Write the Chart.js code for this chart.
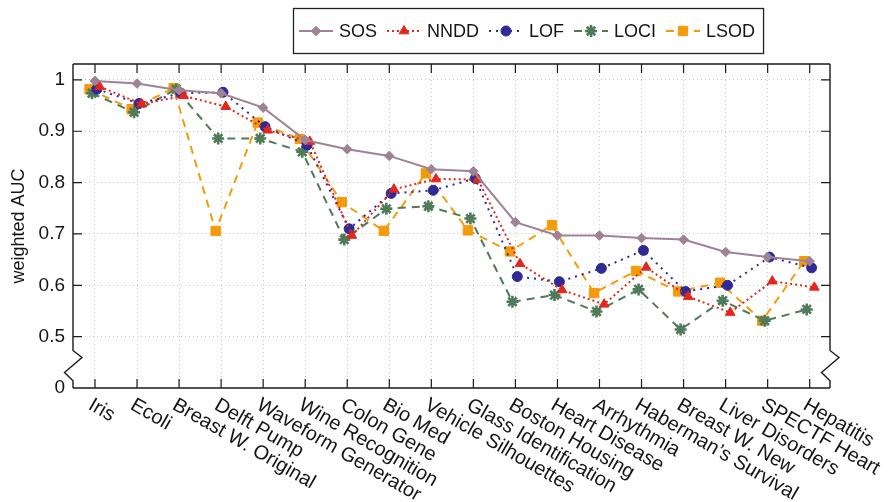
<!DOCTYPE html>
<html><head><meta charset="utf-8">
<script src="https://cdn.jsdelivr.net/npm/chart.js@4"></script>
<style>html,body{margin:0;padding:0;background:#fff}</style>
</head><body>
<canvas id="c" width="890" height="502"></canvas>
<script>
const categories = ["Iris","Ecoli","Breast W. Original","Delft Pump","Waveform Generator","Wine Recognition","Colon Gene","Bio Med","Vehicle Silhouettes","Glass Identification","Boston Housing","Heart Disease","Arrhythmia","Haberman\u2019s Survival","Breast W. New","Liver Disorders","SPECTF Heart","Hepatitis"];
const sos  = [0.998,0.993,0.980,0.974,0.946,0.883,0.865,0.852,0.826,0.822,0.723,0.697,0.697,0.692,0.689,0.665,0.655,0.647];
const nndd = [0.987,0.953,0.969,0.948,0.902,0.880,0.697,0.787,0.807,0.806,0.642,0.591,0.563,0.635,0.578,0.547,0.608,0.596];
const lof  = [0.982,0.954,0.974,0.976,0.909,0.873,0.710,0.779,0.785,0.808,0.617,0.607,0.633,0.668,0.588,0.600,0.655,0.634];
const loci = [0.974,0.937,0.982,0.886,0.886,0.860,0.689,0.749,0.754,0.730,0.568,0.581,0.549,0.592,0.514,0.570,0.531,0.553];
const lsod = [0.982,0.943,0.984,0.706,0.917,0.885,0.762,0.706,0.818,0.707,0.666,0.717,0.585,0.628,0.588,0.605,0.531,0.647];
const seriesNames = ["SOS","NNDD","LOF","LOCI","LSOD"];
const yTickValues = [0.4,0.5,0.6,0.7,0.8,0.9,1.0];
const yTickLabels = ["0","0.5","0.6","0.7","0.8","0.9","1"];

const FONT = '"Liberation Sans", Arial, Helvetica, sans-serif';
const TEXT = '#151515';
const styles = [
  {values: sos,  color:'#a08296', dash:[],    point:'rectRot',  r:4.8, bw:1,   dodge:0},
  {values: nndd, color:'#e2271d', dash:[2,3], point:'triangle', r:5.6, bw:1,   dodge:0.11},
  {values: lof,  color:'#2f2a94', dash:[2,5], point:'circle',   r:5,   bw:1,   dodge:0.045},
  {values: loci, color:'#4f7b5b', dash:[8,6], point:'star',     r:6,   bw:2.6, dodge:-0.07},
  {values: lsod, color:'#f49b0c', dash:[8,6], point:'rect',     r:6.6, bw:1,   dodge:-0.13}
];

const datasets = styles.map((s, k) => ({
  label: seriesNames[k],
  data: s.values.map((v, i) => ({x: i + s.dodge, y: v})),
  borderColor: s.color, backgroundColor: s.color,
  borderWidth: 2, borderDash: s.dash, tension: 0, fill: false,
  pointStyle: s.point, pointRadius: s.r, pointHoverRadius: s.r,
  pointBorderWidth: s.bw, pointBackgroundColor: s.color, pointBorderColor: s.color,
  clip: false
}));

const whiteBg = {
  id: 'whiteBg',
  beforeDraw(chart){ const c = chart.ctx; c.save(); c.fillStyle = '#fff'; c.fillRect(0,0,chart.width,chart.height); c.restore(); }
};

const frame = {
  id: 'frame',
  beforeDatasetsDraw(chart){
    const {ctx, chartArea: a, scales: {x, y}} = chart;
    const yb1 = y.getPixelForValue(0.473), yb2 = y.getPixelForValue(0.414);
    ctx.save();
    ctx.strokeStyle = '#1a1a1a'; ctx.lineWidth = 1.4; ctx.setLineDash([]);
    ctx.lineJoin = 'miter';
    [a.left, a.right].forEach(X => {
      ctx.beginPath();
      ctx.moveTo(X, a.top); ctx.lineTo(X, yb1);
      ctx.lineTo(X + 9, yb1 + 7); ctx.lineTo(X - 8.5, yb1 + 22);
      ctx.lineTo(X, yb2); ctx.lineTo(X, a.bottom);
      ctx.stroke();
    });
    ctx.beginPath();
    ctx.moveTo(a.left, a.top); ctx.lineTo(a.right, a.top);
    ctx.moveTo(a.left, a.bottom); ctx.lineTo(a.right, a.bottom);
    ctx.stroke();
    const T = 9;
    ctx.lineWidth = 1.2;
    ctx.beginPath();
    categories.forEach((c, i) => {
      const px = x.getPixelForValue(i);
      ctx.moveTo(px, a.top); ctx.lineTo(px, a.top + T);
      ctx.moveTo(px, a.bottom); ctx.lineTo(px, a.bottom - T);
    });
    yTickValues.forEach(v => {
      if (v < 0.45) return;
      const py = y.getPixelForValue(v);
      ctx.moveTo(a.left, py); ctx.lineTo(a.left + T, py);
      ctx.moveTo(a.right, py); ctx.lineTo(a.right - T, py);
    });
    ctx.stroke();
    ctx.restore();
  },
  afterDraw(chart){
    const {ctx, chartArea: a, scales: {x}} = chart;
    ctx.save();
    ctx.font = '20px ' + FONT; ctx.fillStyle = TEXT;
    ctx.textAlign = 'left'; ctx.textBaseline = 'top';
    categories.forEach((c, i) => {
      const px = x.getPixelForValue(i);
      ctx.save(); ctx.translate(px, a.bottom + 7); ctx.rotate(Math.PI / 6);
      ctx.fillText(c, 0, 0); ctx.restore();
    });
    // legend
    ctx.font = '18px ' + FONT; ctx.textBaseline = 'middle';
    const cy = 31, sample = 34;
    let xp = 299;
    const drawPt = (s, cx) => {
      ctx.save();
      ctx.setLineDash([]);
      ctx.fillStyle = s.color; ctx.strokeStyle = s.color; ctx.lineWidth = s.bw;
      Chart.helpers.drawPoint(ctx, {pointStyle: s.point, radius: s.r, borderWidth: s.bw, rotation: 0}, cx, cy);
      ctx.restore();
    };
    styles.forEach((s, k) => {
      ctx.save();
      ctx.strokeStyle = s.color; ctx.lineWidth = 2; ctx.setLineDash(s.dash);
      ctx.beginPath(); ctx.moveTo(xp, cy); ctx.lineTo(xp + sample, cy); ctx.stroke();
      ctx.restore();
      drawPt(s, xp + sample / 2);
      ctx.fillStyle = TEXT;
      ctx.fillText(seriesNames[k], xp + sample + 6, cy + 1);
      const w = ctx.measureText(seriesNames[k]).width;
      xp += sample + 6 + w + 10;
    });
    const right = xp - 10 + 8;
    ctx.strokeStyle = '#222'; ctx.lineWidth = 1.3; ctx.setLineDash([]);
    ctx.strokeRect(293.5, 8.5, right - 293, 45);
    ctx.restore();
  }
};

new Chart(document.getElementById('c'), {
  type: 'line',
  data: { datasets },
  options: {
    responsive: false, animation: false, devicePixelRatio: 1,
    layout: { padding: { top: 64, right: 60, left: 0, bottom: 0 } },
    plugins: { legend: { display: false }, tooltip: { enabled: false } },
    scales: {
      x: {
        type: 'linear', min: -0.523, max: 17.483,
        afterBuildTicks: s => { s.ticks = categories.map((c, i) => ({value: i})); },
        ticks: { display: false },
        grid: { color: '#c9c9c9', lineWidth: 1, drawTicks: false },
        border: { display: false, dash: [1, 3] },
        afterFit: s => { s.height = 114; }
      },
      y: {
        type: 'linear', min: 0.4, max: 1.031,
        afterBuildTicks: s => { s.ticks = yTickValues.map(v => ({value: v})); },
        ticks: {
          callback: (v, i) => yTickLabels[i],
          font: { family: FONT, size: 19 }, color: TEXT, padding: 8
        },
        grid: { color: c => (c.tick && c.tick.value < 0.45) ? 'rgba(0,0,0,0)' : '#c9c9c9', lineWidth: 1, drawTicks: false },
        border: { display: false, dash: [1, 3] },
        title: { display: true, text: 'weighted AUC', font: { family: FONT, size: 18 }, color: TEXT, padding: { top: 8, bottom: 0 } },
        afterFit: s => { s.width = 73; }
      }
    }
  },
  plugins: [whiteBg, frame]
});
</script>
</body></html>
